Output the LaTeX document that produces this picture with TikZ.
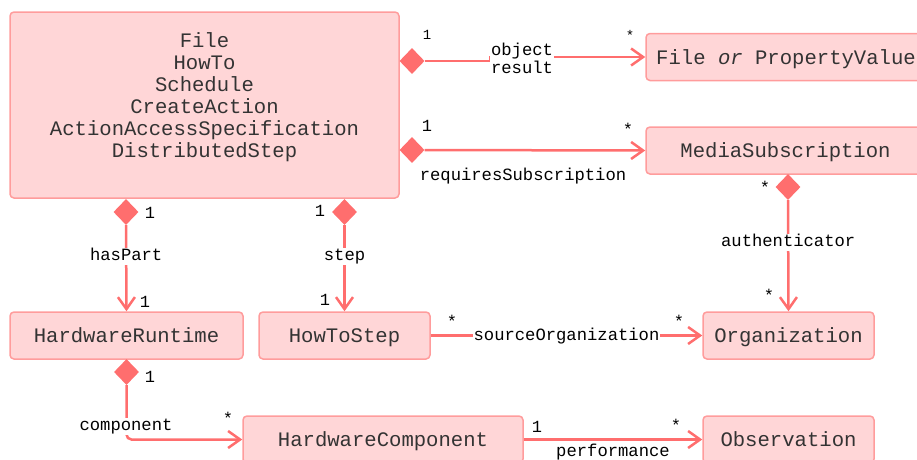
\documentclass[tikz,border=0pt]{standalone}
\usepackage{fontspec}
\usetikzlibrary{shapes.geometric,arrows.meta}
\newfontfamily\monofont{Liberation Mono}
\definecolor{boxfill}{HTML}{FFD6D7}
\definecolor{boxline}{HTML}{FF9C9C}
\definecolor{linkred}{HTML}{FF6E6E}
\definecolor{boxtext}{HTML}{333333}
\tikzset{
  box/.style={draw=boxline, fill=boxfill, line width=1.5pt, rounded corners=4pt,
    inner sep=0pt, minimum height=47pt, text=boxtext,
    text height=14pt, text depth=0pt,
    font=\monofont\fontsize{20.6}{22}\selectfont},
  link/.style={draw=linkred, line width=2.5pt},
  open/.style={link, -{Straight Barb[length=12pt,width=17pt]}},
  agg/.style={diamond, fill=linkred, draw=none, inner sep=0pt,
    minimum width=25pt, minimum height=26pt},
  lbl/.style={fill=white, inner sep=1pt, text=black,
    text height=12pt, text depth=3pt,
    font=\monofont\fontsize{17.2}{18}\selectfont},
  mult/.style={inner sep=0pt, text=black, font=\monofont\fontsize{17}{18}\selectfont},
  smallmult/.style={inner sep=0pt, text=black, font=\monofont\fontsize{14}{15}\selectfont},
}
\begin{document}
\begin{tikzpicture}[x=1pt,y=-1pt]
\useasboundingbox (0,0) rectangle (917,459);

% classes
\node[box, minimum width=389pt, minimum height=186pt, text height=0pt] (main) at (204.5,105) {};
\node[text=boxtext, align=center, inner sep=0pt,
      font=\monofont\fontsize{20.6}{22}\selectfont] (maintext) at (204.5,97)
  {File\\HowTo\\Schedule\\CreateAction\\ActionAccessSpecification\\DistributedStep};
\node[box, minimum width=280pt] (filepv) at (786,57) {File \textit{or} PropertyValue};
\node[box, minimum width=279pt] (media) at (785.5,150.5) {MediaSubscription};
\node[box, minimum width=233pt] (hwr) at (126.5,335.5) {HardwareRuntime};
\node[box, minimum width=171pt] (hts) at (344.5,335.5) {HowToStep};
\node[box, minimum width=171pt] (org) at (788.5,335.5) {Organization};
\node[box, minimum width=280pt] (hwc) at (383,439.5) {HardwareComponent};
\node[box, minimum width=171pt] (obs) at (788.5,439.5) {Observation};

% aggregation diamonds
\node[agg] (d1) at (412,61) {};
\node[agg] (d2) at (412,150) {};
\node[agg] (d3) at (126,212) {};
\node[agg] (d4) at (344.5,212) {};
\node[agg] (d5) at (788,187) {};
\node[agg] (d6) at (126.5,372) {};

% associations
\draw[open] (d1.east) -- ++(66,0) |- (filepv.west);
\node[lbl, align=center, text height=, text depth=] (objres) at (522,58) {object\\result};

\draw[open] (d2.east) -- (media.west);
\node[lbl] (reqsub) at (523,176) {requiresSubscription};

\draw[open] (d3.south) -- (hwr.north) node[lbl, pos=0.36] {hasPart};
\draw[open] (d4.south) -- (hts.north) node[lbl, pos=0.36] {step};
\draw[open] (d5.south) -- (org.north) node[lbl, pos=0.38] {authenticator};
\draw[open] (hts.east) -- (org.west) node[lbl, pos=0.5] {sourceOrganization};
\draw[open, rounded corners=5pt] (d6.south) |- (hwc.west);
\node[lbl] (comp) at (126,426) {component};
\draw[open] (hwc.east) -- (obs.west);
\node[lbl] (perf) at (613,452) {performance};

% multiplicities
\node[smallmult] at (427,35) {1};
\node[smallmult] at (630,35) {*};
\node[mult] at (427,126) {1};
\node[mult] at (628,129) {*};
\node[mult] at (150,213) {1};
\node[mult] at (145,302) {1};
\node[mult] at (320,211) {1};
\node[mult] at (325,300) {1};
\node[mult] at (765,187) {*};
\node[mult] at (769,295) {*};
\node[mult] at (452,321) {*};
\node[mult] at (679,321) {*};
\node[mult] at (150,377) {1};
\node[mult] at (228,418) {*};
\node[mult] at (537,427) {1};
\node[mult] at (676,425) {*};
\end{tikzpicture}
\end{document}
